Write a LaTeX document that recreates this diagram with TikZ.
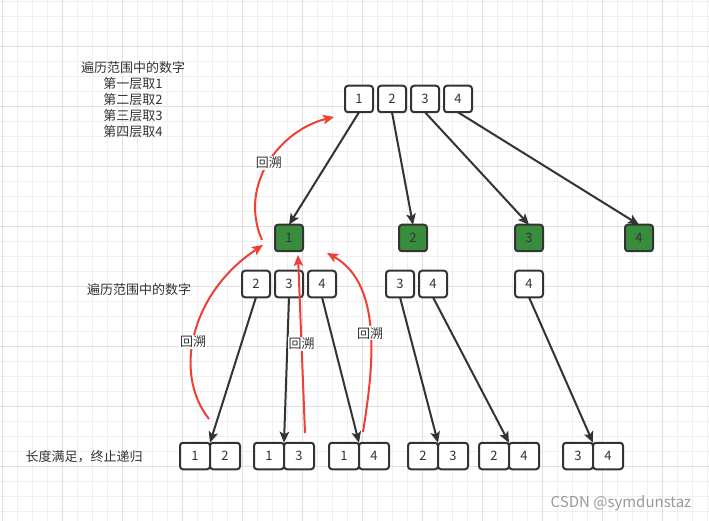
\documentclass[tikz,border=0pt]{standalone}
\usepackage{fontspec}
\setmainfont{Noto Sans CJK SC}
\usetikzlibrary{arrows.meta,positioning}

\definecolor{gridminor}{HTML}{EFEFEF}
\definecolor{gridmajor}{HTML}{DFDFDF}
\definecolor{inkgray}{HTML}{333333}
\definecolor{leafgreen}{HTML}{388C3C}
\definecolor{backred}{HTML}{F23F35}
\definecolor{markgray}{HTML}{9A9A9A}

\tikzset{
  numbox/.style={draw=inkgray, line width=2pt, rounded corners=3pt, fill=white,
    minimum width=28pt, minimum height=26.5pt, inner sep=0pt, outer sep=0pt,
    text=inkgray, font=\fontsize{13}{15}\selectfont},
  pickbox/.style={numbox, fill=leafgreen},
  pairbox/.style={numbox, minimum width=30pt},
  tree/.style={draw=inkgray, line width=2pt, -{Stealth[length=11pt,width=9.5pt,inset=2.5pt]}},
  back/.style={draw=backred, line width=2pt, -{Stealth[length=11pt,width=9.5pt,inset=2.5pt]}},
  backlabel/.style={fill=white, text=inkgray, inner sep=1pt, font=\fontsize{13}{15}\selectfont},
  note/.style={text=inkgray, font=\fontsize{13}{16}\selectfont}
}

\begin{document}
\begin{tikzpicture}[x=1pt, y=-1pt]
  \useasboundingbox (0,0) rectangle (709,521);

  % background grid
  \fill[white] (0,0) rectangle (709,521);
  \foreach \gx in {2.7,17.7,...,707.7} \draw[gridminor, line width=0.8pt] (\gx,0) -- (\gx,521);
  \foreach \gy in {1,16,...,520} \draw[gridminor, line width=0.8pt] (0,\gy) -- (709,\gy);
  \foreach \gx in {2.7,62.7,...,707.7} \draw[gridmajor, line width=0.8pt] (\gx,0) -- (\gx,521);
  \foreach \gy in {46,106,...,520} \draw[gridmajor, line width=0.8pt] (0,\gy) -- (709,\gy);

  % notes on the left
  \node[note, align=center] (hint1) at (133,100) {遍历范围中的数字\\第一层取1\\第二层取2\\第三层取3\\第四层取4};
  \node[note] (hint2) at (139,290) {遍历范围中的数字};
  \node[note] (hint3) at (84,457) {长度满足，终止递归};

  % first level: range 1..4
  \node[numbox] (t1) at (359,99) {1};
  \node[numbox, right=5pt of t1] (t2) {2};
  \node[numbox, right=5pt of t2] (t3) {3};
  \node[numbox, right=5pt of t3] (t4) {4};

  % picked numbers
  \node[pickbox] (g1) at (289,238) {1};
  \node[pickbox] (g2) at (413,238) {2};
  \node[pickbox] (g3) at (529,238) {3};
  \node[pickbox] (g4) at (639,238) {4};

  % second level ranges
  \node[numbox] (m2) at (256,284) {2};
  \node[numbox, right=5pt of m2] (m3) {3};
  \node[numbox, right=5pt of m3] (m4) {4};
  \node[numbox] (n3) at (400,284) {3};
  \node[numbox, right=5pt of n3] (n4) {4};
  \node[numbox] (k4) at (529,284) {4};

  % results of length 2
  \node[pairbox] (b12a) at (195,456) {1};
  \node[pairbox, right=0pt of b12a] (b12b) {2};
  \node[pairbox] (b13a) at (269,456) {1};
  \node[pairbox, right=0pt of b13a] (b13b) {3};
  \node[pairbox] (b14a) at (344,456) {1};
  \node[pairbox, right=0pt of b14a] (b14b) {4};
  \node[pairbox] (b23a) at (423,456) {2};
  \node[pairbox, right=0pt of b23a] (b23b) {3};
  \node[pairbox] (b24a) at (494,456) {2};
  \node[pairbox, right=0pt of b24a] (b24b) {4};
  \node[pairbox] (b34a) at (578,456) {3};
  \node[pairbox, right=0pt of b34a] (b34b) {4};

  % recursion
  \draw[tree] (t1.south) -- (g1.north);
  \draw[tree] (t2.south) -- (g2.north);
  \draw[tree] (t3.south) -- (g3.north);
  \draw[tree] (t4.south) -- (g4.north);
  \draw[tree] (m2.south) -- (b12a.north east);
  \draw[tree] (m3.south) -- (b13a.north east);
  \draw[tree] (m4.south) -- (b14a.north east);
  \draw[tree] (n3.south) -- (b23a.north east);
  \draw[tree] (n4.south) -- (b24a.north east);
  \draw[tree] (k4.south) -- (b34a.north east);

  % backtracking
  \coordinate (r1s) at (262,240);
  \coordinate (r1e) at (334,117);
  \coordinate (r2s) at (209,419);
  \coordinate (r2e) at (263,245);
  \coordinate (r3s) at (305,433);
  \coordinate (r3e) at (298,255);
  \coordinate (r4s) at (363,432);
  \coordinate (r4e) at (327,253);
  \draw[back] (r1s) .. controls (238,185) and (280,130) .. (r1e) node[pos=0.5, backlabel] {回溯};
  \draw[back] (r2s) .. controls (172,372) and (192,292) .. (r2e) node[pos=0.45, backlabel] {回溯};
  \draw[back] (r3s) -- (r3e) node[pos=0.5, backlabel] {回溯};
  \draw[back] (r4s) .. controls (372,375) and (385,285) .. (r4e) node[pos=0.5, backlabel] {回溯};

  % watermark
  \node[text=markgray, font=\fontsize{15}{17}\selectfont] (mark) at (621,503) {CSDN @symdunstaz};
\end{tikzpicture}
\end{document}
